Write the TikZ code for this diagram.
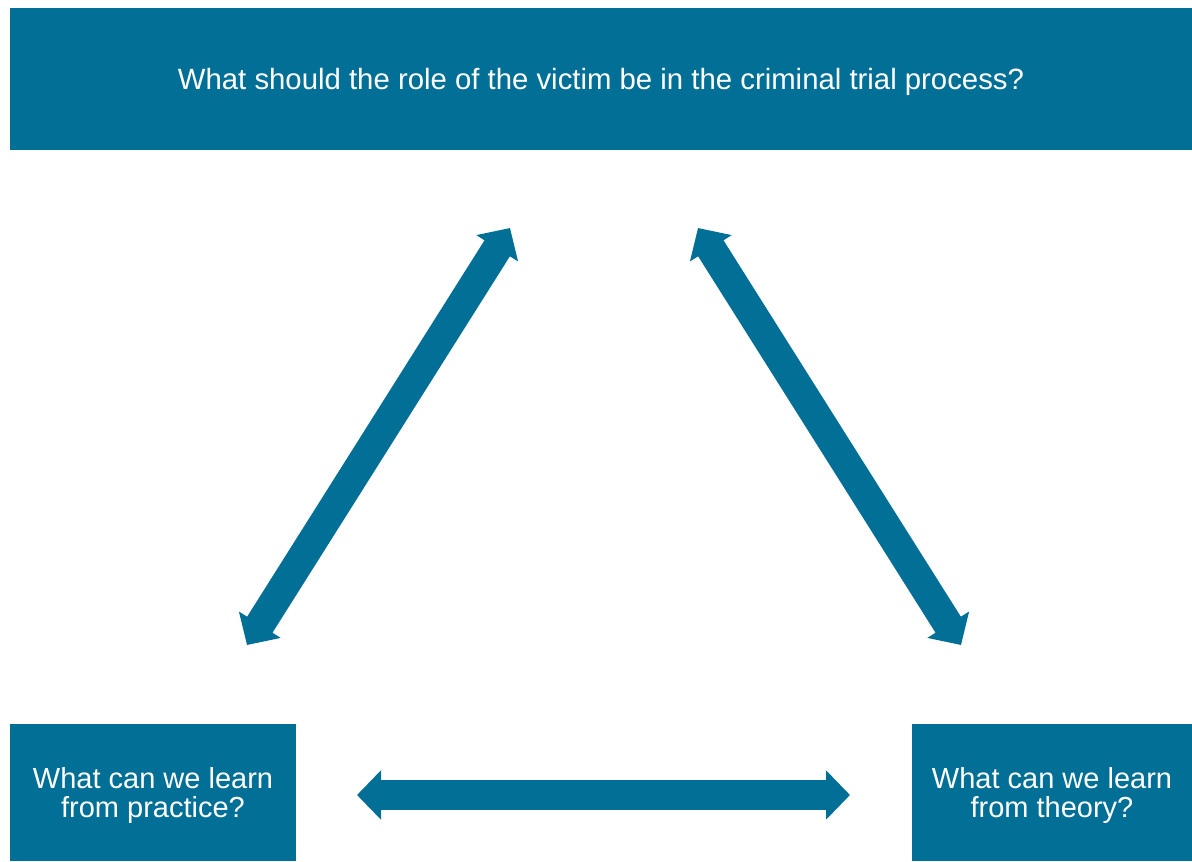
\documentclass[tikz,border=0pt]{standalone}
\usepackage{fontspec}
\setmainfont{Liberation Sans}
\usetikzlibrary{arrows.meta}
\definecolor{trialblue}{RGB}{2,111,150}

\begin{document}
\begin{tikzpicture}[x=0.75pt,y=-0.75pt]
	\tikzset{qbox/.style={fill=trialblue,text=white,align=center,inner sep=0pt,text depth=0pt,font=\fontsize{21.75}{21.75}\selectfont}}
	\tikzset{link/.style={trialblue,line width=22.5pt,{Triangle[width=36pt,length=18pt]}-{Triangle[width=36pt,length=18pt]}}}
	\useasboundingbox (0,0) rectangle (1192,861);
	\node[qbox,font=\fontsize{22}{22}\selectfont,minimum width=886.5pt,minimum height=106.5pt] (question) at (601,79) {What should the role of the victim be in the criminal trial process?};
	\node[qbox,minimum width=214.5pt,minimum height=102.75pt] (practice) at (153,792.5) {What can we learn\\from practice?};
	\node[qbox,minimum width=210pt,minimum height=102.75pt] (theory) at (1052,792.5) {What can we learn\\from theory?};
	% arrow ends
	\coordinate (pq) at (510,228);
	\coordinate (qp) at (247,645);
	\coordinate (tq) at (698,228);
	\coordinate (qt) at (961,645);
	\coordinate (pt) at (357,795);
	\coordinate (tp) at (850,795);
	\draw[link] (qp) -- (pq);
	\draw[link] (qt) -- (tq);
	\draw[link] (pt) -- (tp);
\end{tikzpicture}
\end{document}
